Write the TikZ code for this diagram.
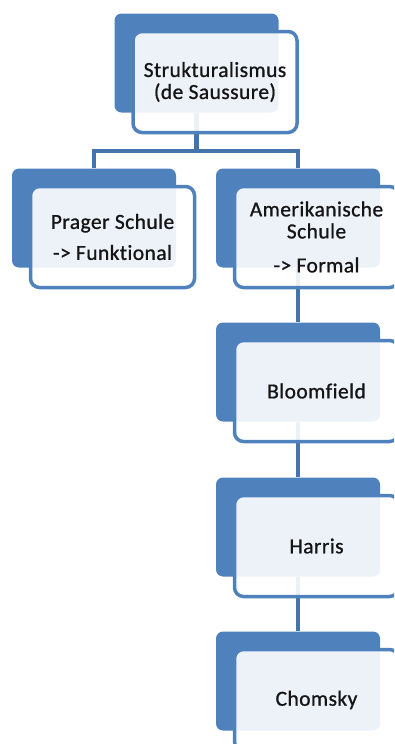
\documentclass[tikz,border=0pt]{standalone}
\usepackage{fontspec}
\setmainfont{Carlito}
\newfontfamily\cardfont{Carlito}[Ligatures=NoCommon, FakeBold=0.9, LetterSpace=2]
\definecolor{accent}{HTML}{4F81BD}
\definecolor{linkblue}{HTML}{4673AC}
\definecolor{inktext}{HTML}{151515}
\tikzset{
  backbox/.style={rectangle, rounded corners=7pt, fill=accent, draw=none,
    minimum width=164pt, minimum height=99pt, inner sep=0pt},
  frontbox/.style={rectangle, rounded corners=9pt, fill=white, fill opacity=0.9,
    text opacity=1, draw=accent, draw opacity=1, line width=3.5pt,
    minimum width=164pt, minimum height=101pt, inner sep=2pt, align=center,
    text=inktext, font=\cardfont\fontsize{21.5}{22}\selectfont},
  conn/.style={draw=linkblue, line width=4.5pt},
}
\begin{document}
\begin{tikzpicture}[x=1pt,y=-1pt]
\useasboundingbox (0,0) rectangle (394,744);
\clip (0,0) rectangle (394,744);
% back plates
\node[backbox] (rootb)  at (196.5,63) {};
\node[backbox] (pragb)  at (94,218)   {};
\node[backbox] (amerb)  at (298,218)  {};
\node[backbox] (bloomb) at (298,372)  {};
\node[backbox] (harrb)  at (298,527)  {};
\node[backbox] (chomb)  at (298,681)  {};
% connectors, drawn behind the front cards
\coordinate (bar) at (0,151);
\draw[conn] (rootb.south) -- (rootb.south |- bar);
\draw[conn] (pragb.north) -- (pragb.north |- bar) -- (amerb.north |- bar) -- (amerb.north);
\draw[conn] (amerb.south) -- (bloomb.north);
\draw[conn] (bloomb.south) -- (harrb.north);
\draw[conn] (harrb.south) -- (chomb.north);
% front cards with text
\node[frontbox] (rootf)  at ([shift={(18.5,19)}]rootb.center)  {Strukturalismus\\(de Saussure)};
\node[frontbox] (pragf)  at ([shift={(18.5,19)}]pragb.center)  {Prager Schule\\[9pt]-> Funktional};
\node[frontbox] (amerf)  at ([shift={(18.5,19)}]amerb.center)  {Amerikanische\\Schule\\[12pt]-> Formal};
\node[frontbox] (bloomf) at ([shift={(18.5,19)}]bloomb.center) {Bloomfield};
\node[frontbox] (harrf)  at ([shift={(18.5,19)}]harrb.center)  {Harris};
\node[frontbox] (chomf)  at ([shift={(18.5,19)}]chomb.center)  {Chomsky};
\end{tikzpicture}
\end{document}
